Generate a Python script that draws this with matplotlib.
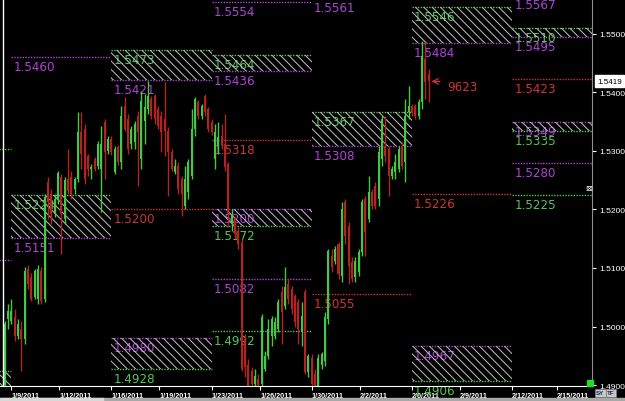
import matplotlib
matplotlib.use("Agg")
import matplotlib.pyplot as plt
from matplotlib.patches import Rectangle
from matplotlib.transforms import blended_transform_factory
import numpy as np

# ---- 4h candles, EUR/USD-ish, Jan 9 .. Feb 7 2011 -------------------------
OPEN = [1.4900, 1.5013, 1.5009, 1.5016, 1.4983, 1.4996, 1.4979, 1.5098, 1.5085, 1.5050,
        1.5047, 1.5095, 1.5047, 1.5247, 1.5226, 1.5192, 1.5218, 1.5255, 1.5184, 1.5252,
        1.5255, 1.5235, 1.5252, 1.5332, 1.5338, 1.5291, 1.5269, 1.5286, 1.5274, 1.5269,
        1.5350, 1.5300, 1.5321, 1.5264, 1.5307, 1.5281, 1.5377, 1.5355, 1.5312, 1.5315,
        1.5360, 1.5286, 1.5351, 1.5372, 1.5389, 1.5394, 1.5372, 1.5360, 1.5355, 1.5334,
        1.5298, 1.5264, 1.5274, 1.5252, 1.5206, 1.5230, 1.5257, 1.5338, 1.5384, 1.5360,
        1.5394, 1.5372, 1.5350, 1.5286, 1.5308, 1.5326, 1.5312, 1.5277, 1.5175, 1.5184,
        1.5163, 1.5144, 1.4979, 1.4935, 1.4924, 1.4901, 1.4910, 1.4901, 1.4927, 1.4949,
        1.4984, 1.4984, 1.4996, 1.5059, 1.5035, 1.5072, 1.5064, 1.5052, 1.5042, 1.4991,
        1.5059, 1.4922, 1.4947, 1.4918, 1.4896, 1.4935, 1.4941, 1.5013, 1.5120, 1.5112,
        1.5141, 1.5087, 1.5213, 1.5172, 1.5110, 1.5084, 1.5093, 1.5127, 1.5218, 1.5184,
        1.5230, 1.5240, 1.5218, 1.5286, 1.5308, 1.5303, 1.5257, 1.5264, 1.5269, 1.5308,
        1.5281, 1.5367, 1.5377, 1.5377, 1.5360, 1.5384, 1.5457, 1.5432]
HIGH = [1.5010, 1.5038, 1.5047, 1.5030, 1.5013, 1.5009, 1.5102, 1.5105, 1.5091, 1.5098,
        1.5105, 1.5102, 1.5226, 1.5255, 1.5235, 1.5226, 1.5266, 1.5260, 1.5255, 1.5303,
        1.5266, 1.5255, 1.5367, 1.5367, 1.5346, 1.5295, 1.5278, 1.5289, 1.5317, 1.5343,
        1.5355, 1.5326, 1.5326, 1.5308, 1.5310, 1.5377, 1.5392, 1.5363, 1.5343, 1.5351,
        1.5368, 1.5403, 1.5397, 1.5420, 1.5394, 1.5397, 1.5377, 1.5368, 1.5418, 1.5341,
        1.5303, 1.5286, 1.5281, 1.5257, 1.5274, 1.5286, 1.5372, 1.5392, 1.5387, 1.5380,
        1.5397, 1.5375, 1.5355, 1.5346, 1.5350, 1.5346, 1.5363, 1.5281, 1.5201, 1.5187,
        1.5170, 1.5150, 1.4987, 1.4944, 1.4930, 1.4927, 1.4918, 1.5021, 1.4958, 1.5013,
        1.5018, 1.5016, 1.5047, 1.5069, 1.5101, 1.5081, 1.5069, 1.5055, 1.5047, 1.5042,
        1.5064, 1.4953, 1.4953, 1.4927, 1.4953, 1.4956, 1.5025, 1.5132, 1.5132, 1.5137,
        1.5144, 1.5213, 1.5218, 1.5179, 1.5119, 1.5119, 1.5132, 1.5218, 1.5223, 1.5257,
        1.5235, 1.5247, 1.5308, 1.5360, 1.5360, 1.5308, 1.5274, 1.5295, 1.5308, 1.5315,
        1.5389, 1.5411, 1.5380, 1.5380, 1.5389, 1.5488, 1.5486, 1.5440]
LOW = [1.4890, 1.4996, 1.5004, 1.4975, 1.4979, 1.4924, 1.4970, 1.5064, 1.5043, 1.5047,
       1.5038, 1.5038, 1.5042, 1.5184, 1.5175, 1.5187, 1.5209, 1.5124, 1.5175, 1.5226,
       1.5218, 1.5226, 1.5247, 1.5269, 1.5243, 1.5257, 1.5252, 1.5265, 1.5269, 1.5196,
       1.5252, 1.5295, 1.5293, 1.5260, 1.5276, 1.5269, 1.5334, 1.5295, 1.5303, 1.5303,
       1.5240, 1.5269, 1.5312, 1.5363, 1.5355, 1.5346, 1.5338, 1.5298, 1.5291, 1.5223,
       1.5266, 1.5260, 1.5226, 1.5189, 1.5201, 1.5218, 1.5252, 1.5326, 1.5355, 1.5355,
       1.5360, 1.5333, 1.5327, 1.5269, 1.5295, 1.5303, 1.5265, 1.5170, 1.5163, 1.5150,
       1.5132, 1.4924, 1.4913, 1.4889, 1.4889, 1.4889, 1.4889, 1.4893, 1.4924, 1.4944,
       1.4967, 1.4979, 1.4991, 1.4970, 1.5030, 1.5038, 1.5021, 1.4999, 1.4970, 1.4967,
       1.4918, 1.4913, 1.4893, 1.4889, 1.4889, 1.4927, 1.4932, 1.5004, 1.5093, 1.5107,
       1.5081, 1.5076, 1.5141, 1.5073, 1.5076, 1.5076, 1.5087, 1.5120, 1.5120, 1.5179,
       1.5201, 1.5201, 1.5206, 1.5274, 1.5281, 1.5223, 1.5252, 1.5252, 1.5264, 1.5269,
       1.5247, 1.5355, 1.5360, 1.5355, 1.5355, 1.5372, 1.5389, 1.5384]
CLOSE = [1.5005, 1.5027, 1.5027, 1.4983, 1.5004, 1.4979, 1.5095, 1.5073, 1.5047, 1.5095,
         1.5098, 1.5043, 1.5221, 1.5213, 1.5192, 1.5218, 1.5262, 1.5192, 1.5250, 1.5231,
         1.5226, 1.5252, 1.5332, 1.5295, 1.5252, 1.5269, 1.5272, 1.5269, 1.5312, 1.5312,
         1.5298, 1.5321, 1.5298, 1.5303, 1.5281, 1.5360, 1.5338, 1.5303, 1.5338, 1.5346,
         1.5333, 1.5385, 1.5375, 1.5394, 1.5360, 1.5355, 1.5343, 1.5333, 1.5334, 1.5298,
         1.5269, 1.5274, 1.5235, 1.5226, 1.5252, 1.5281, 1.5338, 1.5389, 1.5360, 1.5377,
         1.5367, 1.5338, 1.5333, 1.5333, 1.5324, 1.5308, 1.5272, 1.5192, 1.5192, 1.5158,
         1.5141, 1.4927, 1.4930, 1.4898, 1.4901, 1.4915, 1.4900, 1.5016, 1.4949, 1.4996,
         1.5013, 1.5008, 1.5042, 1.5025, 1.5067, 1.5047, 1.5030, 1.5008, 1.4996, 1.5018,
         1.4922, 1.4949, 1.4901, 1.4896, 1.4947, 1.4953, 1.5016, 1.5129, 1.5101, 1.5132,
         1.5090, 1.5201, 1.5155, 1.5103, 1.5081, 1.5112, 1.5127, 1.5213, 1.5161, 1.5230,
         1.5206, 1.5206, 1.5298, 1.5355, 1.5291, 1.5257, 1.5269, 1.5281, 1.5303, 1.5274,
         1.5360, 1.5377, 1.5367, 1.5360, 1.5384, 1.5462, 1.5418, 1.5419]

# date ticks, in bar index
DATE_POS = [2, 16.4, 32, 46.4, 62, 76.5, 92, 106.4, 122, 136.4, 152, 165.5]
DATE_LABELS = ["1/9/2011", "1/12/2011", "1/16/2011", "1/19/2011", "1/23/2011", "1/26/2011",
               "1/30/2011", "2/2/2011", "2/6/2011", "2/9/2011", "2/12/2011", "2/15/2011"]

# weekly pivot segments (bar index); week 0 is the previous week stub
WEEK_START = [-28, 2, 32, 62, 92, 122, 152]
WEEK_END = [2, 32, 62, 92, 122, 152, 176]

# weekly levels: week, price, kind (p = purple, g = green, r = red)
LEVEL_WEEK = [0, 0, 0,
              1, 1, 1,
              2, 2, 2, 2, 2,
              3, 3, 3, 3, 3, 3, 3, 3,
              4, 4, 4, 4,
              5, 5, 5, 5, 5,
              6, 6, 6, 6, 6, 6, 6, 6]
LEVEL_PRICE = [1.5303, 1.5114, 1.4924,
               1.5460, 1.5224, 1.5151,
               1.5473, 1.5421, 1.5200, 1.4980, 1.4928,
               1.5554, 1.5464, 1.5436, 1.5318, 1.5200, 1.5172, 1.5082, 1.4992,
               1.5561, 1.5367, 1.5308, 1.5055,
               1.5546, 1.5484, 1.5226, 1.4967, 1.4906,
               1.5567, 1.5510, 1.5495, 1.5423, 1.5349, 1.5335, 1.5280, 1.5225]
LEVEL_KIND = ["g", "p", "g",
              "p", "g", "p",
              "g", "p", "r", "p", "g",
              "p", "g", "p", "r", "p", "g", "p", "g",
              "p", "g", "p", "r",
              "g", "p", "r", "p", "g",
              "p", "g", "p", "r", "p", "g", "p", "g"]

# hatched zones: week, top, bottom
BOX_WEEK = [0, 1, 2, 2, 3, 3, 4, 5, 5, 6, 6]
BOX_TOP = [1.4924, 1.5224, 1.5473, 1.4980, 1.5464, 1.5200, 1.5367, 1.5546, 1.4967, 1.5510, 1.5349]
BOX_BOTTOM = [1.4860, 1.5151, 1.5421, 1.4928, 1.5436, 1.5172, 1.5308, 1.5484, 1.4906, 1.5495, 1.5335]

LAST_PRICE = 1.5419
Y_TICKS = [1.49, 1.50, 1.51, 1.52, 1.53, 1.54, 1.55]

COLORS = {"p": "#b044d8", "g": "#52c852", "r": "#d03434"}
UP, DOWN = "#45c945", "#b52222"
plt.rcParams["hatch.linewidth"] = 0.7

W, H = 625, 402
fig = plt.figure(figsize=(W / 100, H / 100), dpi=100, facecolor="black")
ax = fig.add_axes([0, 15 / H, 592 / W, 387 / H], facecolor="black")
ax.set_xlim(-1.35, 175.9)
ax.set_ylim(1.48983, 1.55598)

# pivot levels + labels
for w, price, kind in zip(LEVEL_WEEK, LEVEL_PRICE, LEVEL_KIND):
    x0, x1 = WEEK_START[w], WEEK_END[w]
    ax.hlines(price, x0, x1, colors=COLORS[kind], linestyles=(0, (1, 1)), lw=1, zorder=1)
    if x0 > ax.get_xlim()[0]:
        ax.annotate(f"{price:.4f}", xy=(x0, price), xytext=(2, -3), textcoords="offset pixels",
                    ha="left", va="top", color=COLORS[kind], fontsize=8.6,
                    annotation_clip=False, zorder=2)

for w, top, bot in zip(BOX_WEEK, BOX_TOP, BOX_BOTTOM):
    x0, x1 = WEEK_START[w], WEEK_END[w]
    ax.add_patch(Rectangle((x0, bot), x1 - x0, top - bot, fill=False, hatch="\\\\\\\\",
                           edgecolor="#c4c4c4", lw=0, zorder=3))

# candles
o, h, l, c = map(np.array, (OPEN, HIGH, LOW, CLOSE))
x = np.arange(len(c))
cols = np.where(c >= o, UP, DOWN)
ax.vlines(x, l, h, colors=cols, lw=1, zorder=4)
body = np.maximum(np.abs(c - o), 0.00012)
ax.bar(x, body, bottom=np.minimum(o, c), width=0.6, color=cols, lw=0, zorder=5)

# last price arrow + tag
ax.annotate("", xy=(x[-1], c[-1]), xytext=(14, 0), textcoords="offset pixels",
            arrowprops=dict(arrowstyle="->", color=COLORS["r"], lw=0.9), zorder=6)
ax.annotate("9623", xy=(x[-1], c[-1]), xytext=(19, -5), textcoords="offset pixels",
            ha="left", va="center", color=COLORS["r"], fontsize=8.6, zorder=6)

# axes styling
for s in ("top", "left"):
    ax.spines[s].set_visible(False)
ax.spines["bottom"].set_color("white")
ax.spines["right"].set_color("#909090")
ax.plot([3 / 592, 3 / 592], [0, 1], transform=ax.transAxes, color="white", lw=1, zorder=7)

ax.yaxis.tick_right()
ax.set_yticks(Y_TICKS)
ax.set_yticklabels([f"{v:.4f}" for v in Y_TICKS], family="Liberation Sans")
ax.tick_params(axis="y", colors="white", labelsize=6, length=3, pad=2)
ax.set_xticks(DATE_POS)
ax.set_xticklabels(DATE_LABELS, family="Liberation Sans", fontweight="bold")
ax.tick_params(axis="x", colors="white", labelsize=5.2, length=3, pad=1.5)
for lbl in ax.get_xticklabels():
    lbl.set_ha("left")

tr = blended_transform_factory(ax.transAxes, ax.transData)
ax.annotate(f"{LAST_PRICE:.4f}", xy=(1, LAST_PRICE), xycoords=tr, xytext=(5, 0),
            textcoords="offset pixels", ha="left", va="center", fontsize=5.8, color="black",
            family="Liberation Sans",
            bbox=dict(boxstyle="square,pad=0.3", fc="white", ec="white"), annotation_clip=False)

# chrome: scrollbar strip, buttons, marker squares
fig.patches.append(Rectangle((0, 0), 1, 3 / H, transform=fig.transFigure, color="#a8a8a8"))
fig.patches.append(Rectangle((0, 0), 103 / W, 3 / H, transform=fig.transFigure, color="#d8d8d8"))
fig.patches.append(Rectangle((587 / W, 15 / H), 6 / W, 6 / H, transform=fig.transFigure, color="#22dd22"))
fig.text(589 / W, 1 - 189 / H, "\u22a0", color="white", fontsize=6, ha="center", va="center")
for lab, px in (("SY", 596), ("TF", 607)):
    fig.text(px / W, 1 - 394 / H, lab, fontsize=4.5, color="#202060", fontweight="bold",
             va="center", ha="left", family="Liberation Sans",
             bbox=dict(boxstyle="square,pad=0.2", fc="#c8c8c8", ec="#808080", lw=0.5))

fig.savefig("out.png", dpi=100, facecolor="black")
